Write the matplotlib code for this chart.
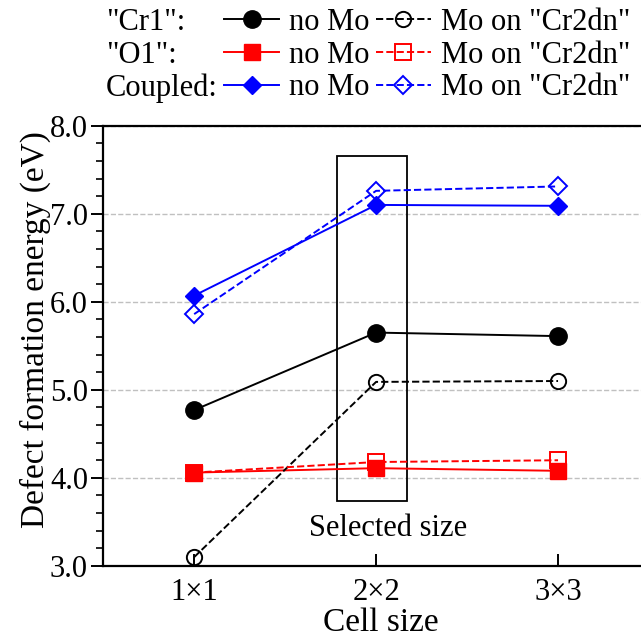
import matplotlib
matplotlib.use("Agg")
import matplotlib.pyplot as plt
from matplotlib.lines import Line2D
from matplotlib.patches import Rectangle
from matplotlib.ticker import MultipleLocator, FormatStrFormatter

plt.rcParams['font.family'] = ['Liberation Serif', 'DejaVu Serif']

# data
cells = ['1×1', '2×2', '3×3']
cr1_no_mo = [4.77, 5.65, 5.61]
cr1_mo = [3.10, 5.09, 5.10]
o1_no_mo = [4.06, 4.11, 4.08]
o1_mo = [4.06, 4.18, 4.20]
coupled_no_mo = [6.07, 7.10, 7.09]
coupled_mo = [5.86, 7.26, 7.31]
row_labels = ['"Cr1":', '"O1":', 'Coupled:']

fig = plt.figure(figsize=(6.41, 6.38), dpi=100)
ax = fig.add_axes([0.161, 0.113, 0.839, 0.690])
x = range(len(cells))

lw = 1.4
h1, = ax.plot(x, cr1_no_mo, '-', color='black', lw=lw, marker='o', ms=12.5)
h2, = ax.plot(x, o1_no_mo, '-', color='red', lw=lw, marker='s', ms=12)
h3, = ax.plot(x, coupled_no_mo, '-', color='blue', lw=lw, marker='D', ms=9.5)
h4, = ax.plot(x, cr1_mo, '--', color='black', lw=lw, marker='o', ms=11,
              mfc='none', mew=1.4)
h5, = ax.plot(x, o1_mo, '--', color='red', lw=lw, marker='s', ms=11,
              mfc='none', mew=1.4)
h6, = ax.plot(x, coupled_mo, '--', color='blue', lw=lw, marker='D', ms=9,
              mfc='none', mew=1.4)

# highlight box around the chosen cell size
ax.add_patch(Rectangle((0.786, 3.74), 0.384, 3.92, fill=False,
                       ec='black', lw=1.3))
ax.text(1.066, 3.43, 'Selected size', ha='center', va='center', fontsize=22)

ax.set_xlim(-0.5, 2.456)
ax.set_ylim(3.0, 8.0)
ax.set_xticks(list(x))
ax.set_xticklabels(cells)
ax.yaxis.set_major_locator(MultipleLocator(1.0))
ax.yaxis.set_minor_locator(MultipleLocator(0.2))
ax.yaxis.set_major_formatter(FormatStrFormatter('%.1f'))
ax.tick_params(axis='y', which='major', direction='out', length=9, width=1.4,
               labelsize=22, pad=2)
ax.tick_params(axis='y', which='minor', direction='out', length=5, width=1.2)
ax.tick_params(axis='x', which='major', direction='in', length=9, width=1.4,
               labelsize=22, pad=9)
ax.grid(axis='y', which='major', ls='--', color='#c0c0c0', lw=1.0)
ax.set_axisbelow(True)
for s in ['left', 'bottom', 'top']:
    ax.spines[s].set_linewidth(1.6)
ax.spines['right'].set_visible(False)

ax.set_xlabel('Cell size', fontsize=24, va='center')
ax.xaxis.set_label_coords(0.517, -0.128)
ax.set_ylabel('Defect formation energy (eV)', fontsize=24, va='center')
ax.yaxis.set_label_coords(-0.126, 0.536)

# legend: first column holds the row names with an invisible handle
blank = Line2D([], [], ls='none', marker='none')
fig.legend([blank] * 3 + [h1, h2, h3, h4, h5, h6],
           row_labels + ['no Mo'] * 3 + ['Mo on "Cr2dn"'] * 3,
           ncol=3, loc='upper left', bbox_to_anchor=(38 / 641, 1 - 5 / 638),
           frameon=False, fontsize=22, handlelength=1.8, handletextpad=0.33,
           columnspacing=0.2, labelspacing=0.12, borderaxespad=0.0,
           borderpad=0.1)

fig.savefig('out.png', dpi=100)
